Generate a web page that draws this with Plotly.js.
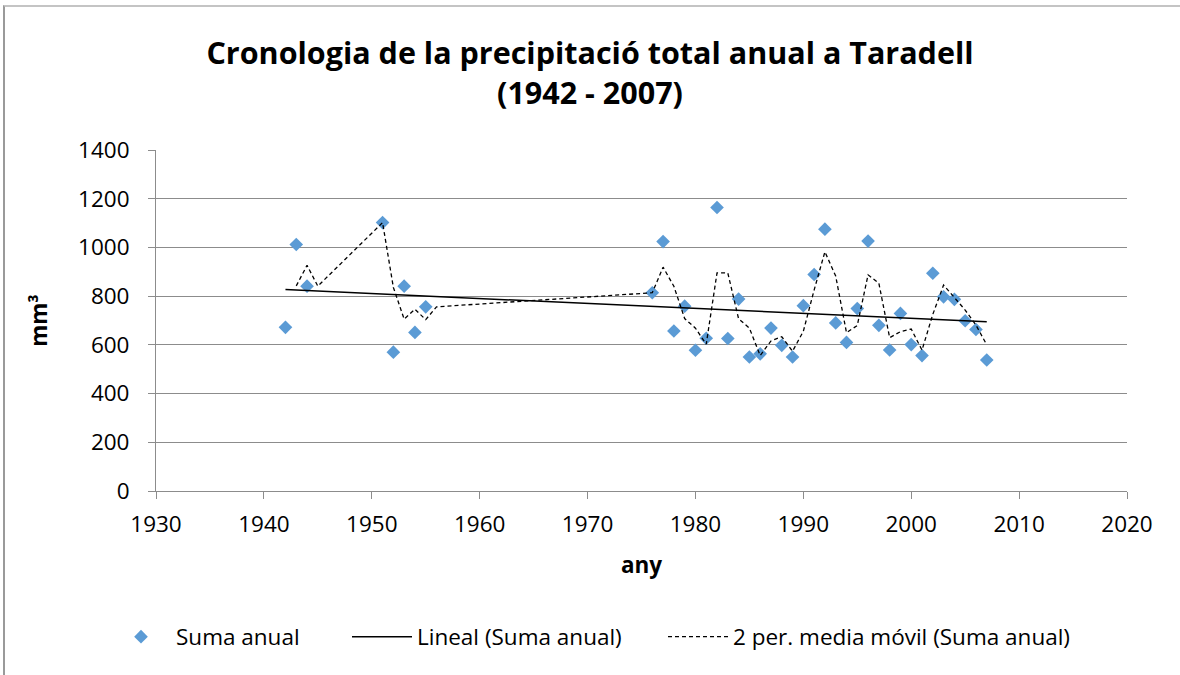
<!DOCTYPE html>
<html>
<head>
<meta charset="utf-8">
<script src="https://cdn.plot.ly/plotly-3.0.1.min.js"></script>
<style>
  html, body { margin: 0; padding: 0; background: #fff; }
  #wrap { position: relative; width: 1180px; height: 675px; overflow: hidden; }
  #frame { position: absolute; left: 3px; top: 5px; width: 1300px; height: 800px;
           border-left: 2px solid #9a9a9a; border-top: 2px solid #c4c4c4; pointer-events: none; }
  #chart { position: absolute; left: 0; top: 0; width: 1180px; height: 675px; }
</style>
</head>
<body>
<div id="wrap">
  <div id="chart"></div>
  <div id="frame"></div>
</div>
<script>
// ---- data ----
const years = [1942, 1943, 1944, 1951, 1952, 1953, 1954, 1955,
               1976, 1977, 1978, 1979, 1980, 1981, 1982, 1983, 1984, 1985, 1986, 1987, 1988, 1989,
               1990, 1991, 1992, 1993, 1994, 1995, 1996, 1997, 1998, 1999,
               2000, 2001, 2002, 2003, 2004, 2005, 2006, 2007];
const sumaAnual = [672, 1012, 841, 1102, 570, 841, 651, 756,
                   814, 1024, 657, 759, 578, 627, 1164, 626, 788, 550, 563, 669, 598, 550,
                   761, 889, 1075, 690, 610, 749, 1026, 680, 579, 729,
                   601, 556, 894, 797, 787, 699, 663, 538];

const xTicks = [1930, 1940, 1950, 1960, 1970, 1980, 1990, 2000, 2010, 2020];
const yTicks = [0, 200, 400, 600, 800, 1000, 1200, 1400];

const titleText = 'Cronologia de la precipitació total anual a Taradell<br>(1942 - 2007)';
const seriesName = 'Suma anual';
const trendName = 'Lineal (Suma anual)';
const maName = '2 per. media móvil (Suma anual)';

// ---- derived series (as the spreadsheet computes them) ----
// linear trend (least squares)
const n = years.length;
const mx = years.reduce((a, b) => a + b, 0) / n;
const my = sumaAnual.reduce((a, b) => a + b, 0) / n;
let sxy = 0, sxx = 0;
for (let i = 0; i < n; i++) { sxy += (years[i] - mx) * (sumaAnual[i] - my); sxx += (years[i] - mx) ** 2; }
const slope = sxy / sxx, icpt = my - slope * mx;
const trendX = [years[0], years[n - 1]];
const trendY = trendX.map(x => icpt + slope * x);

// 2-period moving average over consecutive years, blanks ignored
const byYear = {};
years.forEach((y, i) => byYear[y] = sumaAnual[i]);
const maX = [], maY = [];
for (let y = years[0] + 1; y <= years[n - 1]; y++) {
  const w = [byYear[y - 1], byYear[y]].filter(v => v !== undefined);
  if (w.length) { maX.push(y); maY.push(w.reduce((a, b) => a + b, 0) / w.length); }
}

const FONT = 'Open Sans, sans-serif';
const FS = 22.5;

const traces = [
  { x: years, y: sumaAnual, type: 'scatter', mode: 'markers', name: seriesName, legend: 'legend',
    marker: { symbol: 'diamond', size: 10.5, color: '#5B9BD5', line: { width: 0 } } },
  { x: trendX, y: trendY, type: 'scatter', mode: 'lines', name: trendName, legend: 'legend2',
    line: { color: '#000', width: 1.5 } },
  { x: maX, y: maY, type: 'scatter', mode: 'lines', name: maName, legend: 'legend3',
    line: { color: '#000', width: 1.3, dash: '4px,3px' } }
];

const legY = 1 - 637 / 675;
function leg(xpx) {
  return { orientation: 'h', xref: 'container', yref: 'container',
           x: xpx / 1180, xanchor: 'left', y: legY, yanchor: 'middle',
           bgcolor: 'rgba(0,0,0,0)', borderwidth: 0,
           font: { size: FS, family: FONT, color: '#000' }, itemwidth: 60 };
}

const layout = {
  width: 1180, height: 675,
  paper_bgcolor: '#fff', plot_bgcolor: '#fff',
  margin: { l: 156, r: 53, t: 150, b: 184 },
  font: { family: FONT, size: FS, color: '#000' },
  title: { text: titleText, x: 0.5, xref: 'container', xanchor: 'center',
           y: 1 - 64 / 675, yref: 'container', yanchor: 'middle',
           font: { family: FONT, size: 30.5, color: '#000', weight: 'bold' } },
  xaxis: { range: [1930, 2020], tickvals: xTicks, ticktext: xTicks.map(String),
           showgrid: false, zeroline: false, showline: true, linecolor: '#8c8c8c', linewidth: 1,
           ticks: 'outside', ticklen: 7, tickcolor: '#8c8c8c', ticklabelstandoff: 6,
           tickfont: { size: FS },
           title: { text: '<b>any</b>', standoff: 19, font: { size: FS } } },
  yaxis: { range: [0, 1400], tickvals: yTicks, ticktext: yTicks.map(String),
           showgrid: true, gridcolor: '#8c8c8c', gridwidth: 1, zeroline: false,
           showline: true, linecolor: '#8c8c8c', linewidth: 1,
           ticks: 'outside', ticklen: 7, tickcolor: '#8c8c8c', ticklabelstandoff: 14,
           tickfont: { size: FS },
           title: { text: '<b>mm³</b>', standoff: 24, font: { size: FS } } },
  showlegend: true,
  legend: leg(106),
  legend2: leg(347),
  legend3: leg(663)
};

Plotly.newPlot('chart', traces, layout, { displayModeBar: false, staticPlot: true });
</script>
</body>
</html>
